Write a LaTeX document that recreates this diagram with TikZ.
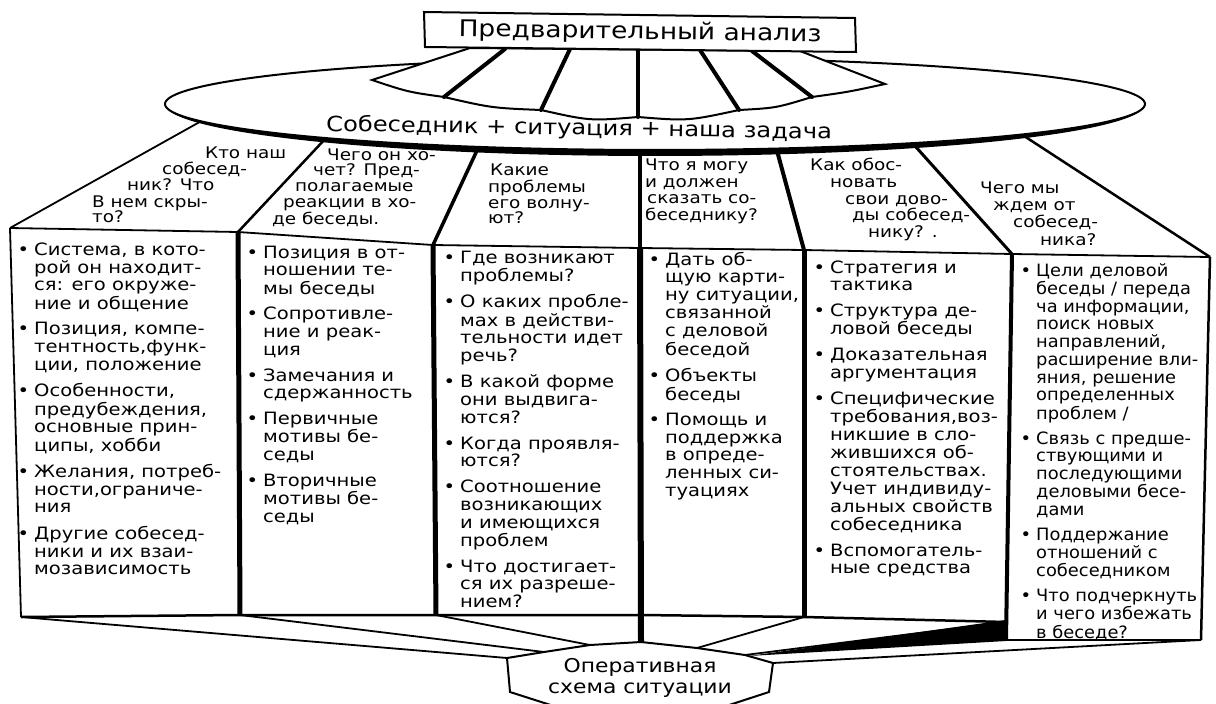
\documentclass[tikz,border=0pt]{standalone}
\usepackage{fontspec}
\newfontfamily\wide[FakeStretch=1.15]{DejaVu Sans}
\newfontfamily\tight[FakeStretch=1.05]{DejaVu Sans}
\newcommand\bl{\llap{•\hspace{5pt}}}
\tikzset{
  txt/.style={inner sep=0pt, anchor=base west, font=\wide\fontsize{17}{17.6}\selectfont},
  roof/.style={inner sep=0pt, anchor=base west, font=\wide\fontsize{16}{17}\selectfont},
  ctr/.style={inner sep=0pt, anchor=base},
  edge/.style={line width=1.8pt},
  post/.style={line width=5pt},
  rib/.style={line width=4pt, line cap=round},
}
\begin{document}
\begin{tikzpicture}[x=1pt,y=-1pt]
\useasboundingbox (0,0) rectangle (1216,704);
\clip (0,0) rectangle (1216,704);

% slanted roof faces between the disc and the columns
\draw[edge] (205,119) -- (10,228);
\draw[line width=2.5pt] (326,138) -- (238,232);
\draw[line width=3.5pt] (480,144) -- (433,245);
\draw[line width=4.5pt] (640,147) -- (640,248);
\draw[line width=4pt] (776,147) -- (804,250);
\draw[line width=3pt] (915,146) -- (1012,254);
\draw[line width=2.5pt] (1021,134) -- (1210,257);

% the disc with its heavy lower rim
\draw[line width=2pt, fill=white] plot[domain=0:360, samples=200] ({655+490*cos(\x)},{104+46*sin(\x)}) -- cycle;
\fill plot[domain=0:180, samples=100] ({655+490*cos(\x)},{104+46*sin(\x)})
  -- plot[domain=180:0, samples=100] ({655+490*cos(\x)},{104+52*sin(\x)}) -- cycle;

% pleated skirt under the top box
\draw[line width=2pt, fill=white] (470,48) -- (372,80)
  .. controls (408,92) .. (444,97)
  .. controls (492,108) .. (541,110)
  .. controls (590,121) .. (638,117)
  .. controls (688,121) .. (739,110)
  .. controls (776,108) .. (812,97)
  .. controls (848,92) .. (885,84) -- (800,51) -- cycle;
\draw[rib] (505,49) -- (444,97);
\draw[rib] (570,49) -- (541,110);
\draw[rib] (638,50) -- (638,117);
\draw[rib] (700,50) -- (739,110);
\draw[rib] (752,51) -- (812,97);

% top box
\draw[line width=2pt, fill=white] (424,12) -- (855,18) -- (856,52) -- (425,47) -- cycle;
\node[ctr, font=\wide\fontsize{23}{26}\selectfont, rotate=-0.8] (pre) at (640,39) {Предварительный анализ};

\node[ctr, font=\wide\fontsize{21}{24}\selectfont, rotate=-0.9] (sit) at (579,135) {Собеседник + ситуация + наша задача};

% front edge and column posts
\draw[edge] (10,228) -- (238,232) -- (433,245) -- (640,248) -- (804,250) -- (1012,254) -- (1210,257);
\draw[edge] (10,228) -- (21,617);
\draw[post] (238,232) -- (240,615);
\draw[post] (433,245) -- (436,615);
\draw[line width=6pt] (640,248) -- (641,642);
\draw[post] (804,250) -- (804,617);
\draw[line width=4pt] (1012,254) -- (1006,640);
\draw[line width=2.5pt] (1210,257) -- (1201,640);
\draw[line width=2.5pt] (21,617) -- (240,615) -- (436,615) -- (641,615) -- (804,617) -- (1006,622);
\draw[line width=2.5pt] (1006,640) -- (1201,640);

% funnel down to the operative scheme
\fill (1006,620) -- (1006,641) -- (749,656) -- cycle;
\draw[edge] (21,617) -- (507,658);
\draw[edge] (240,615) -- (544,652);
\draw[edge] (436,615) -- (590,645);
\draw[edge] (804,617) -- (697,648);
\draw[edge] (1006,622) -- (745,655);
\draw[edge] (1201,640) -- (773,663);
\draw[line width=2pt, fill=white] (507,658) -- (544,652) -- (590,645) -- (641,642) -- (697,648)
  -- (745,655) -- (773,663) -- (769,692) -- (720,708) -- (560,708) -- (510,692) -- cycle;
\node[ctr, font=\wide\fontsize{19}{21}\selectfont] (ops) at (640,672)
  {\begin{tabular}[t]{@{}c@{}}Оперативная\\схема ситуации\end{tabular}};

% questions on the roof faces
\node[roof] (q1a) at (205,158) {Кто наш};
\node[roof] (q1b) at (162,174) {собесед-};
\node[roof] (q1c) at (127,190) {ник?  Что};
\node[roof] (q1d) at (92,207) {В нем скры-};
\node[roof] (q1e) at (92,222) {то?};

\node[roof] (q2a) at (327,160) {Чего он хо-};
\node[roof] (q2b) at (313,175) {чет? Пред-};
\node[roof] (q2c) at (295,191) {полагаемые};
\node[roof] (q2d) at (283,207) {реакции в хо-};
\node[roof] (q2e) at (272,224) {де беседы.};

\node[roof] (q3a) at (490,175) {Какие};
\node[roof] (q3b) at (488,192) {проблемы};
\node[roof] (q3c) at (488,208) {его волну-};
\node[roof] (q3d) at (488,223) {ют?};

\node[roof] (q4a) at (645,170) {Что я могу};
\node[roof] (q4b) at (645,187) {и должен};
\node[roof] (q4c) at (647,203) {сказать со-};
\node[roof] (q4d) at (645,220) {беседнику?};

\node[roof] (q5a) at (810,170) {Как обос-};
\node[roof] (q5b) at (830,187) {новать};
\node[roof] (q5c) at (845,204) {свои дово-};
\node[roof] (q5d) at (852,220) {ды собесед-};
\node[roof] (q5e) at (868,237) {нику? .};

\node[roof] (q6a) at (980,193) {Чего мы};
\node[roof] (q6b) at (993,210) {ждем от};
\node[roof] (q6c) at (1013,227) {собесед-};
\node[roof] (q6d) at (1040,245) {ника?};

% column contents
\node[txt] (c1) at (34,255) {\begin{tabular}[t]{@{}l@{}}
\bl Система, в кото-\\
рой он находит-\\
ся: его окруже-\\
ние и общение\\[8pt]
\bl Позиция, компе-\\
тентность,функ-\\
ции, положение\\[8pt]
\bl Особенности,\\
предубеждения,\\
основные прин-\\
ципы, хобби\\[8pt]
\bl Желания, потреб-\\
ности,ограниче-\\
ния\\[8pt]
\bl Другие собесед-\\
ники и их взаи-\\
мозависимость
\end{tabular}};

\node[txt] (c2) at (263,258) {\begin{tabular}[t]{@{}l@{}}
\bl Позиция в от-\\
ношении те-\\
мы беседы\\[8pt]
\bl Сопротивле-\\
ние и реак-\\
ция\\[8pt]
\bl Замечания и\\
сдержанность\\[8pt]
\bl Первичные\\
мотивы бе-\\
седы\\[8pt]
\bl Вторичные\\
мотивы бе-\\
седы
\end{tabular}};

\node[txt] (c3) at (460,263) {\begin{tabular}[t]{@{}l@{}}
\bl Где возникают\\
проблемы?\\[8pt]
\bl О каких пробле-\\
мах в действи-\\
тельности идет\\
речь?\\[8pt]
\bl В какой форме\\
они выдвига-\\
ются?\\[8pt]
\bl Когда проявля-\\
ются?\\[8pt]
\bl Соотношение\\
возникающих\\
и имеющихся\\
проблем\\[8pt]
\bl Что достигает-\\
ся их разреше-\\
нием?
\end{tabular}};

\node[txt] (c4) at (665,265) {\begin{tabular}[t]{@{}l@{}}
\bl Дать об-\\
щую карти-\\
ну ситуации,\\
связанной\\
с деловой\\
беседой\\[8pt]
\bl Объекты\\
беседы\\[8pt]
\bl Помощь и\\
поддержка\\
в опреде-\\
ленных си-\\
туациях
\end{tabular}};

\node[txt] (c5) at (830,273) {\begin{tabular}[t]{@{}l@{}}
\bl Стратегия и\\
тактика\\[8pt]
\bl Структура де-\\
ловой беседы\\[8pt]
\bl Доказательная\\
аргументация\\[8pt]
\bl Специфические\\
требования,воз-\\
никшие в сло-\\
жившихся об-\\
стоятельствах.\\
Учет индивиду-\\
альных свойств\\
собеседника\\[8pt]
\bl Вспомогатель-\\
ные средства
\end{tabular}};

\node[txt, font=\tight\fontsize{17}{17.6}\selectfont] (c6) at (1036,276) {\begin{tabular}[t]{@{}l@{}}
\bl Цели деловой\\
беседы / переда\\
ча информации,\\
поиск новых\\
направлений,\\
расширение вли-\\
яния, решение\\
определенных\\
проблем /\\[7pt]
\bl Связь с предше-\\
ствующими и\\
последующими\\
деловыми бесе-\\
дами\\[7pt]
\bl Поддержание\\
отношений с\\
собеседником\\[7pt]
\bl Что подчеркнуть\\
и чего избежать\\
в беседе?
\end{tabular}};
\end{tikzpicture}
\end{document}
